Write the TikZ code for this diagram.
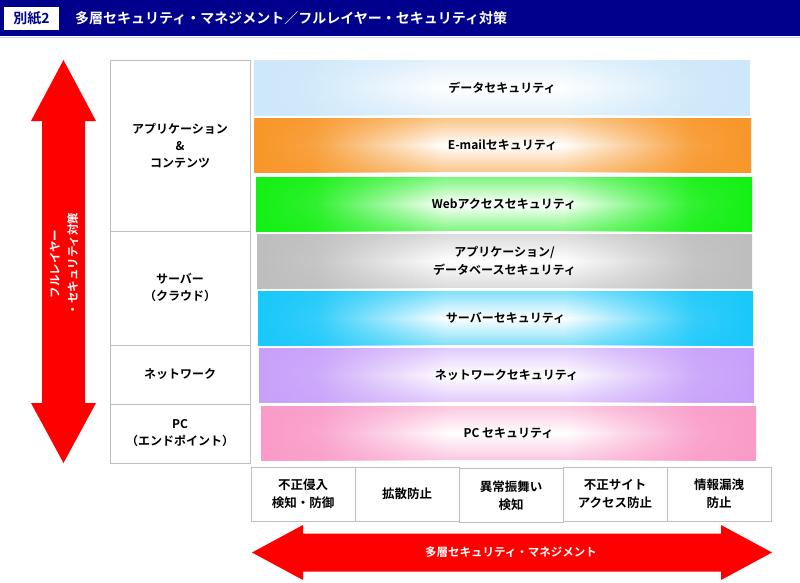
\documentclass[tikz,border=0pt]{standalone}
\usepackage{fontspec}
\setmainfont{Noto Sans CJK JP}[BoldFont={Noto Sans CJK JP Bold}]
\usetikzlibrary{fadings}
\definecolor{hdrnavy}{RGB}{0,0,140}
\definecolor{hdrline}{RGB}{205,205,240}
\definecolor{boxgray}{RGB}{190,190,190}
\definecolor{arrred}{RGB}{255,0,0}
\definecolor{cData}{RGB}{205,232,250}
\definecolor{cMail}{RGB}{248,150,40}
\definecolor{cWeb}{RGB}{20,240,20}
\definecolor{cGray}{RGB}{190,190,190}
\definecolor{cCyan}{RGB}{25,200,250}
\definecolor{cPurple}{RGB}{200,160,250}
\definecolor{cPink}{RGB}{250,155,200}
\newcommand\mkbandshade[1]{\pgfdeclarehorizontalshading{sh#1}{100bp}{color(0bp)=(#1); color(25bp)=(#1); color(31bp)=(#1!88!white); color(44bp)=(white); color(56bp)=(white); color(69bp)=(#1!88!white); color(75bp)=(#1); color(100bp)=(#1)}}
\mkbandshade{cData}
\mkbandshade{cMail}
\mkbandshade{cWeb}
\mkbandshade{cGray}
\mkbandshade{cCyan}
\mkbandshade{cPurple}
\mkbandshade{cPink}
\tikzfading[name=vedge, top color=transparent!45, bottom color=transparent!45, middle color=transparent!100]
\tikzset{
  bandtext/.style={align=center, font=\bfseries\fontsize{12}{18}\selectfont, text=black, inner sep=0pt},
  layerbox/.style={draw=boxgray, line width=1pt, fill=white, align=center, minimum width=140pt, font=\bfseries\fontsize{12}{17}\selectfont},
  measbox/.style={draw=boxgray, line width=1pt, fill=white, align=center, minimum width=104pt, minimum height=54pt, font=\bfseries\fontsize{12.5}{18}\selectfont},
  arrtext/.style={text=white, align=center, font=\bfseries\fontsize{11.5}{18}\selectfont},
}
\newcommand\bandbox[7]{%
  \shade[shading=sh#2] (#3,#4) rectangle (#5,#6);
  \fill[#2, path fading=vedge] (#3,#4) rectangle (#5,#6);
  \node[bandtext] (#1) at ({(#3+#5)/2},{(#4+#6)/2}) {#7};
}
\begin{document}
\begin{tikzpicture}[x=1pt,y=-1pt]
\useasboundingbox (0,0) rectangle (800,582);
\fill[white] (0,0) rectangle (800,582);
% header
\fill[hdrnavy] (0,0) rectangle (800,36);
\draw[hdrline, line width=1.2pt] (0,37.2) -- (800,37.2);
\node[fill=white, minimum width=55pt, minimum height=23pt, inner sep=0pt, text=hdrnavy, font=\bfseries\fontsize{14}{16}\selectfont] (badge) at (31.5,18.5) {別紙2};
\node[anchor=west, inner sep=0pt, text=white, font=\bfseries\fontsize{14}{16}\selectfont] (title) at (75,18.5) {多層セキュリティ・マネジメント／フルレイヤー・セキュリティ対策};
% left vertical arrow
\fill[arrred] (63.5,60) -- (96,121) -- (85,121) -- (85,403) -- (96,403) -- (63.5,463) -- (31,403) -- (42,403) -- (42,121) -- (31,121) -- cycle;
\node[arrtext, rotate=90] (fulllayer) at (64,264) {フルレイヤー\\・セキュリティ対策};
% layer boxes
\node[layerbox, minimum height=171pt] (app) at (180,145.5) {アプリケーション\\\&\\コンテンツ};
\node[layerbox, minimum height=114pt] (srv) at (180,288) {サーバー\\（クラウド）};
\node[layerbox, minimum height=59pt] (net) at (180,374.5) {ネットワーク};
\node[layerbox, minimum height=59pt] (pc) at (180,433.5) {PC\\（エンドポイント）};
% bands
\bandbox{bdata}{cData}{254}{60}{750}{115}{データセキュリティ}
\bandbox{bmail}{cMail}{254}{118}{751}{172}{E-mailセキュリティ}
\bandbox{bweb}{cWeb}{256}{177}{752}{231}{Webアクセスセキュリティ}
\bandbox{bappdb}{cGray}{257}{234}{752}{288}{アプリケーション/\\データベースセキュリティ}
\bandbox{bsrv}{cCyan}{258}{291}{753}{345}{サーバーセキュリティ}
\bandbox{bnet}{cPurple}{259}{348}{754}{402}{ネットワークセキュリティ}
\bandbox{bpc}{cPink}{261}{406}{756}{460}{PC セキュリティ}
% measure boxes
\node[measbox] (m1) at (303,494) {不正侵入\\検知・防御};
\node[measbox] (m2) at (407,494) {拡散防止};
\node[measbox] (m3) at (511,495.5) {異常振舞い\\検知};
\node[measbox] (m4) at (615,494) {不正サイト\\アクセス防止};
\node[measbox] (m5) at (719,494) {情報漏洩\\防止};
% bottom horizontal arrow
\fill[arrred] (252,552.5) -- (303,525) -- (303,533.5) -- (721,533.5) -- (721,525) -- (772,552.5) -- (721,580) -- (721,571.5) -- (303,571.5) -- (303,580) -- cycle;
\node[arrtext] (multilayer) at (511,552.5) {多層セキュリティ・マネジメント};
\end{tikzpicture}
\end{document}
